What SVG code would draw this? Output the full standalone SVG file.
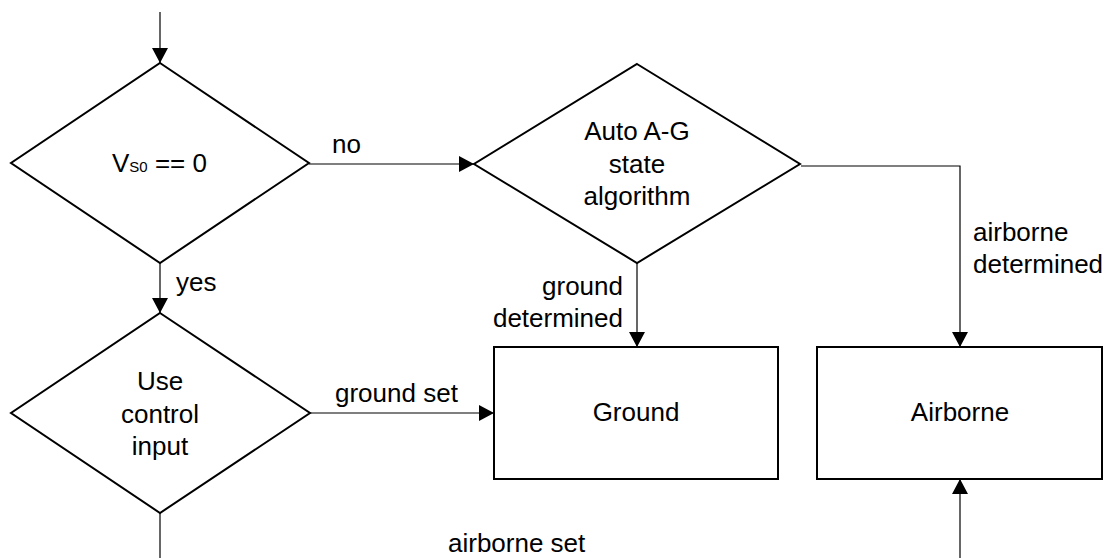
<svg xmlns="http://www.w3.org/2000/svg" width="1107" height="558" viewBox="0 0 1107 558">
<defs>
<style>
.shape{fill:#fff;stroke:#000;stroke-width:2}
.conn{fill:none;stroke:#000;stroke-width:1.2}
text{font-family:"Liberation Sans",Arial,sans-serif;font-size:26px;fill:#000}
.c{text-anchor:middle}
.r{text-anchor:end}
</style>
<marker id="arr" viewBox="0 0 15 16" refX="15" refY="8" markerWidth="15" markerHeight="16" markerUnits="userSpaceOnUse" orient="auto">
<path d="M0,0 L15,8 L0,16 z" fill="#000"/>
</marker>
</defs>
<g id="connectors">
<path class="conn" d="M160,12 V63" marker-end="url(#arr)"/>
<path class="conn" d="M309,164 H474" marker-end="url(#arr)"/>
<path class="conn" d="M801,166 H960 V347" marker-end="url(#arr)"/>
<path class="conn" d="M637,263 V347" marker-end="url(#arr)"/>
<path class="conn" d="M160,263 V313" marker-end="url(#arr)"/>
<path class="conn" d="M310,413 H494" marker-end="url(#arr)"/>
<path class="conn" d="M160,513 V558"/>
<path class="conn" d="M960,558 V479" marker-end="url(#arr)"/>
</g>
<g id="labels">
<text x="332" y="153">no</text>
<text x="176" y="291">yes</text>
<text class="r" x="623" y="295">ground</text>
<text class="r" x="623" y="327">determined</text>
<text x="973" y="241">airborne</text>
<text x="973" y="273">determined</text>
<text x="335" y="402">ground set</text>
<text x="448" y="552">airborne set</text>
</g>
<g id="node-vs0">
<polygon class="shape" points="160,63 309,163 160,263 11,163"/>
<text x="112" y="172">V<tspan font-size="15">S0</tspan> == 0</text>
</g>
<g id="node-auto">
<polygon class="shape" points="637,64 800,164 637,263 474,164"/>
<text class="c" x="637" y="140">Auto A-G</text>
<text class="c" x="637" y="172.5">state</text>
<text class="c" x="637" y="205">algorithm</text>
</g>
<g id="node-control">
<polygon class="shape" points="160,313 310,413 160,513 11,413"/>
<text class="c" x="160" y="390">Use</text>
<text class="c" x="160" y="422.5">control</text>
<text class="c" x="160" y="455">input</text>
</g>
<g id="node-ground">
<rect class="shape" x="494" y="347" width="284" height="132"/>
<text class="c" x="636" y="421">Ground</text>
</g>
<g id="node-airborne">
<rect class="shape" x="817" y="347" width="285" height="132"/>
<text class="c" x="960" y="421">Airborne</text>
</g>
</svg>
